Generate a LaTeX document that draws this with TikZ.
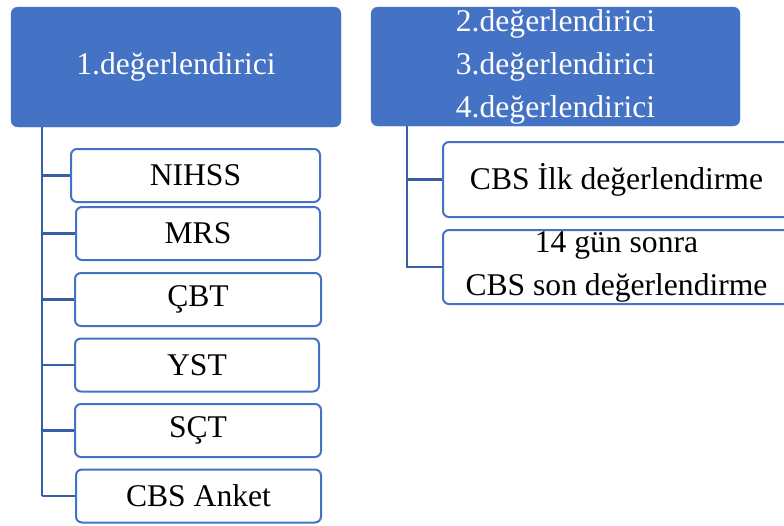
\documentclass[tikz,border=0pt]{standalone}
\usepackage{fontspec}
\setmainfont{Liberation Serif}
\definecolor{mavi}{HTML}{4472C4}
\definecolor{koyu}{RGB}{58,93,168}
\tikzset{
  ana/.style={fill=mavi,draw=mavi,rounded corners=7pt,text=white,align=center,inner sep=0pt},
  kutu/.style={draw=mavi,line width=2pt,fill=white,rounded corners=6pt,align=center,inner sep=0pt},
  dal/.style={draw=koyu,line width=2.6pt}
}
\begin{document}
\begin{tikzpicture}[x=1pt,y=-1pt,font=\fontsize{31.6}{43}\selectfont]
	\clip (0,0) rectangle (784,525);
	% ust kutular
	\node[ana,minimum width=330pt,minimum height=120pt] (d1) at (176,67) {1.değerlendirici};
	\node[ana,minimum width=369pt,minimum height=119pt] (d2) at (555.5,66.5)
		{2.değerlendirici\\3.değerlendirici\\4.değerlendirici};
	\coordinate (t1) at (42,127);
	\coordinate (t2) at (407,126);
	% sol alt kutular
	\foreach \n/\t/\cx/\cy/\w in {nihss/NIHSS/195.5/175.5/249, mrs/MRS/198/233.5/244,
		cbt/ÇBT/198/299.5/246, yst/YST/197/365/244, sct/SÇT/198/430.5/246, anket/CBS Anket/198.5/496/245}{
		\node[kutu,minimum width=\w pt,minimum height=53pt] (\n) at (\cx,\cy) {\t};
		\draw[dal] (t1 |- \n.west) -- (\n.west);
	}
	\draw[dal] (t1) -- (t1 |- anket.west);
	% sag alt kutular
	\node[kutu,minimum width=347pt,minimum height=75pt] (ilk) at (616.5,179.5) {CBS İlk değerlendirme};
	\node[kutu,minimum width=347pt,minimum height=74pt] (son) at (616.5,267) {14 gün sonra\\CBS son değerlendirme};
	\draw[dal] (t2) |- (son.west);
	\draw[dal] (t2 |- ilk.west) -- (ilk.west);
\end{tikzpicture}
\end{document}
